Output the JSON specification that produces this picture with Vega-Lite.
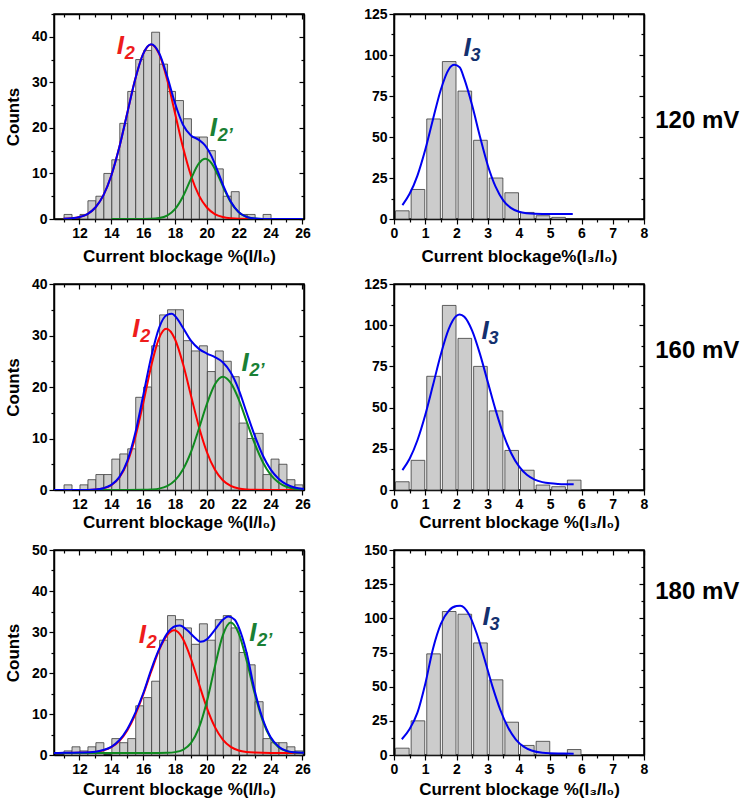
{
"$schema": "https://vega.github.io/schema/vega-lite/v6.json",
"background": "white",
"padding": {"left": 3, "top": 6, "right": 5, "bottom": 5},
"config": {
  "font": "Liberation Sans",
  "view": {"stroke": "black", "strokeWidth": 1.5},
  "axis": {"labelFont": "Liberation Sans", "titleFont": "Liberation Sans", "labelFontSize": 14, "labelFontWeight": "bold", "labelColor": "black", "titleFontSize": 17, "titleFontWeight": "bold", "titleColor": "black", "domainColor": "black", "domainWidth": 1.5, "tickColor": "black", "tickWidth": 1.2, "grid": false, "labelFlush": false, "labelPadding": 2, "titlePadding": 6, "labelOverlap": false, "format": "d"},
  "text": {"font": "Liberation Sans"}
},
"datasets": {
"bars": [
{"p":"A","x":11,"x2":11.5,"y":1},{"p":"A","x":12,"x2":12.5,"y":1},{"p":"A","x":12.5,"x2":13,"y":4},{"p":"A","x":13,"x2":13.5,"y":5},{"p":"A","x":13.5,"x2":14,"y":10},{"p":"A","x":14,"x2":14.5,"y":13},{"p":"A","x":14.5,"x2":15,"y":21},{"p":"A","x":15,"x2":15.5,"y":28},{"p":"A","x":15.5,"x2":16,"y":35},{"p":"A","x":16,"x2":16.5,"y":37},{"p":"A","x":16.5,"x2":17,"y":41},{"p":"A","x":17,"x2":17.5,"y":34},{"p":"A","x":17.5,"x2":18,"y":28},{"p":"A","x":18,"x2":18.5,"y":26},{"p":"A","x":18.5,"x2":19,"y":22},{"p":"A","x":19,"x2":19.5,"y":18},{"p":"A","x":19.5,"x2":20,"y":18},{"p":"A","x":20,"x2":20.5,"y":15},{"p":"A","x":20.5,"x2":21,"y":11},{"p":"A","x":21,"x2":21.5,"y":5},{"p":"A","x":21.5,"x2":22,"y":6},{"p":"A","x":22,"x2":22.5,"y":1},{"p":"A","x":22.5,"x2":23,"y":1},{"p":"A","x":23.5,"x2":24,"y":1},
{"p":"B","x":11,"x2":11.5,"y":1},{"p":"B","x":12,"x2":12.5,"y":1},{"p":"B","x":12.5,"x2":13,"y":2},{"p":"B","x":13,"x2":13.5,"y":3},{"p":"B","x":13.5,"x2":14,"y":3},{"p":"B","x":14,"x2":14.5,"y":6},{"p":"B","x":14.5,"x2":15,"y":7},{"p":"B","x":15,"x2":15.5,"y":8},{"p":"B","x":15.5,"x2":16,"y":18},{"p":"B","x":16,"x2":16.5,"y":20},{"p":"B","x":16.5,"x2":17,"y":28},{"p":"B","x":17,"x2":17.5,"y":34},{"p":"B","x":17.5,"x2":18,"y":35},{"p":"B","x":18,"x2":18.5,"y":35},{"p":"B","x":18.5,"x2":19,"y":29},{"p":"B","x":19,"x2":19.5,"y":27},{"p":"B","x":19.5,"x2":20,"y":28},{"p":"B","x":20,"x2":20.5,"y":23},{"p":"B","x":20.5,"x2":21,"y":27},{"p":"B","x":21,"x2":21.5,"y":25},{"p":"B","x":21.5,"x2":22,"y":22},{"p":"B","x":22,"x2":22.5,"y":13},{"p":"B","x":22.5,"x2":23,"y":10},{"p":"B","x":23,"x2":23.5,"y":11},{"p":"B","x":23.5,"x2":24,"y":3},{"p":"B","x":24,"x2":24.5,"y":6},{"p":"B","x":24.5,"x2":25,"y":5},{"p":"B","x":25,"x2":25.5,"y":2},{"p":"B","x":25.5,"x2":26,"y":1},
{"p":"C","x":11,"x2":11.5,"y":1},{"p":"C","x":11.5,"x2":12,"y":2},{"p":"C","x":12,"x2":12.5,"y":1},{"p":"C","x":12.5,"x2":13,"y":2},{"p":"C","x":13,"x2":13.5,"y":3},{"p":"C","x":14,"x2":14.5,"y":4},{"p":"C","x":14.5,"x2":15,"y":3},{"p":"C","x":15,"x2":15.5,"y":4},{"p":"C","x":15.5,"x2":16,"y":12},{"p":"C","x":16,"x2":16.5,"y":14},{"p":"C","x":16.5,"x2":17,"y":18},{"p":"C","x":17,"x2":17.5,"y":28},{"p":"C","x":17.5,"x2":18,"y":34},{"p":"C","x":18,"x2":18.5,"y":33},{"p":"C","x":18.5,"x2":19,"y":31},{"p":"C","x":19,"x2":19.5,"y":27},{"p":"C","x":19.5,"x2":20,"y":32},{"p":"C","x":20,"x2":20.5,"y":28},{"p":"C","x":20.5,"x2":21,"y":33},{"p":"C","x":21,"x2":21.5,"y":34},{"p":"C","x":21.5,"x2":22,"y":31},{"p":"C","x":22,"x2":22.5,"y":25},{"p":"C","x":22.5,"x2":23,"y":22},{"p":"C","x":23,"x2":23.5,"y":13},{"p":"C","x":23.5,"x2":24,"y":4},{"p":"C","x":24,"x2":24.5,"y":3},{"p":"C","x":24.5,"x2":25,"y":3},{"p":"C","x":25,"x2":25.5,"y":2},{"p":"C","x":25.5,"x2":26,"y":1},
{"p":"D","x":0,"x2":0.5,"y":5},{"p":"D","x":0.5,"x2":1,"y":18},{"p":"D","x":1,"x2":1.5,"y":61},{"p":"D","x":1.5,"x2":2,"y":96},{"p":"D","x":2,"x2":2.5,"y":78},{"p":"D","x":2.5,"x2":3,"y":48},{"p":"D","x":3,"x2":3.5,"y":25},{"p":"D","x":3.5,"x2":4,"y":16},{"p":"D","x":4,"x2":4.5,"y":4},{"p":"D","x":4.5,"x2":5,"y":2},{"p":"D","x":5,"x2":5.5,"y":1},
{"p":"E","x":0,"x2":0.5,"y":5},{"p":"E","x":0.5,"x2":1,"y":18},{"p":"E","x":1,"x2":1.5,"y":69},{"p":"E","x":1.5,"x2":2,"y":112},{"p":"E","x":2,"x2":2.5,"y":92},{"p":"E","x":2.5,"x2":3,"y":75},{"p":"E","x":3,"x2":3.5,"y":48},{"p":"E","x":3.5,"x2":4,"y":24},{"p":"E","x":4,"x2":4.5,"y":12},{"p":"E","x":4.5,"x2":5,"y":3},{"p":"E","x":5,"x2":5.5,"y":2},{"p":"E","x":5.5,"x2":6,"y":6},
{"p":"F","x":0,"x2":0.5,"y":5},{"p":"F","x":0.5,"x2":1,"y":25},{"p":"F","x":1,"x2":1.5,"y":74},{"p":"F","x":1.5,"x2":2,"y":105},{"p":"F","x":2,"x2":2.5,"y":103},{"p":"F","x":2.5,"x2":3,"y":82},{"p":"F","x":3,"x2":3.5,"y":55},{"p":"F","x":3.5,"x2":4,"y":24},{"p":"F","x":4,"x2":4.5,"y":7},{"p":"F","x":4.5,"x2":5,"y":10},{"p":"F","x":5.5,"x2":6,"y":4}
],
"curves": [
{"p":"A","s":"red","x":11,"y":0.05},{"p":"A","s":"red","x":11.5,"y":0.15},{"p":"A","s":"red","x":12,"y":0.43},{"p":"A","s":"red","x":12.5,"y":1.09},{"p":"A","s":"red","x":13,"y":2.52},{"p":"A","s":"red","x":13.5,"y":5.18},{"p":"A","s":"red","x":14,"y":9.55},{"p":"A","s":"red","x":14.5,"y":15.74},{"p":"A","s":"red","x":15,"y":23.23},{"p":"A","s":"red","x":15.5,"y":30.67},{"p":"A","s":"red","x":16,"y":36.23},{"p":"A","s":"red","x":16.5,"y":38.3},{"p":"A","s":"red","x":17,"y":36.23},{"p":"A","s":"red","x":17.5,"y":30.67},{"p":"A","s":"red","x":18,"y":23.23},{"p":"A","s":"red","x":18.5,"y":15.74},{"p":"A","s":"red","x":19,"y":9.55},{"p":"A","s":"red","x":19.5,"y":5.18},{"p":"A","s":"red","x":20,"y":2.52},{"p":"A","s":"red","x":20.5,"y":1.09},{"p":"A","s":"red","x":21,"y":0.43},{"p":"A","s":"red","x":21.5,"y":0.15},{"p":"A","s":"red","x":22,"y":0.05},{"p":"A","s":"red","x":23,"y":0.01},{"p":"A","s":"red","x":24,"y":0},
{"p":"A","s":"green","x":14,"y":0},{"p":"A","s":"green","x":15,"y":0},{"p":"A","s":"green","x":16,"y":0.01},{"p":"A","s":"green","x":16.5,"y":0.04},{"p":"A","s":"green","x":17,"y":0.2},{"p":"A","s":"green","x":17.5,"y":0.74},{"p":"A","s":"green","x":18,"y":2.17},{"p":"A","s":"green","x":18.5,"y":4.95},{"p":"A","s":"green","x":19,"y":8.8},{"p":"A","s":"green","x":19.5,"y":12.19},{"p":"A","s":"green","x":19.9,"y":13.2},{"p":"A","s":"green","x":20.3,"y":12.19},{"p":"A","s":"green","x":20.7,"y":9.58},{"p":"A","s":"green","x":21.1,"y":6.43},{"p":"A","s":"green","x":21.5,"y":3.67},{"p":"A","s":"green","x":22,"y":1.46},{"p":"A","s":"green","x":22.5,"y":0.45},{"p":"A","s":"green","x":23,"y":0.11},{"p":"A","s":"green","x":23.5,"y":0.02},{"p":"A","s":"green","x":24,"y":0},{"p":"A","s":"green","x":26,"y":0},
{"p":"A","s":"blue","x":11,"y":0.05},{"p":"A","s":"blue","x":11.5,"y":0.15},{"p":"A","s":"blue","x":12,"y":0.43},{"p":"A","s":"blue","x":12.5,"y":1.09},{"p":"A","s":"blue","x":13,"y":2.52},{"p":"A","s":"blue","x":13.5,"y":5.18},{"p":"A","s":"blue","x":14,"y":9.55},{"p":"A","s":"blue","x":14.5,"y":15.74},{"p":"A","s":"blue","x":15,"y":23.23},{"p":"A","s":"blue","x":15.5,"y":30.67},{"p":"A","s":"blue","x":16,"y":36.24},{"p":"A","s":"blue","x":16.5,"y":38.34},{"p":"A","s":"blue","x":17,"y":36.43},{"p":"A","s":"blue","x":17.5,"y":31.41},{"p":"A","s":"blue","x":18,"y":25.4},{"p":"A","s":"blue","x":18.5,"y":20.69},{"p":"A","s":"blue","x":19,"y":18.35},{"p":"A","s":"blue","x":19.5,"y":17.37},{"p":"A","s":"blue","x":19.9,"y":16.13},{"p":"A","s":"blue","x":20.3,"y":13.74},{"p":"A","s":"blue","x":20.7,"y":10.34},{"p":"A","s":"blue","x":21.1,"y":6.78},{"p":"A","s":"blue","x":21.5,"y":3.82},{"p":"A","s":"blue","x":22,"y":1.51},{"p":"A","s":"blue","x":22.5,"y":0.46},{"p":"A","s":"blue","x":23,"y":0.11},{"p":"A","s":"blue","x":23.5,"y":0.02},{"p":"A","s":"blue","x":24,"y":0},{"p":"A","s":"blue","x":26,"y":0},
{"p":"B","s":"red","x":10.4,"y":0},{"p":"B","s":"red","x":12,"y":0},{"p":"B","s":"red","x":12.5,"y":0.02},{"p":"B","s":"red","x":13,"y":0.09},{"p":"B","s":"red","x":13.5,"y":0.31},{"p":"B","s":"red","x":14,"y":0.93},{"p":"B","s":"red","x":14.5,"y":2.38},{"p":"B","s":"red","x":15,"y":5.3},{"p":"B","s":"red","x":15.5,"y":10.2},{"p":"B","s":"red","x":16,"y":16.8},{"p":"B","s":"red","x":16.5,"y":24},{"p":"B","s":"red","x":17,"y":29.5},{"p":"B","s":"red","x":17.45,"y":31.3},{"p":"B","s":"red","x":18,"y":29.27},{"p":"B","s":"red","x":18.5,"y":24.5},{"p":"B","s":"red","x":19,"y":18.35},{"p":"B","s":"red","x":19.5,"y":12.3},{"p":"B","s":"red","x":20,"y":7.38},{"p":"B","s":"red","x":20.5,"y":3.96},{"p":"B","s":"red","x":21,"y":1.9},{"p":"B","s":"red","x":21.5,"y":0.82},{"p":"B","s":"red","x":22,"y":0.31},{"p":"B","s":"red","x":22.5,"y":0.1},{"p":"B","s":"red","x":23,"y":0.03},{"p":"B","s":"red","x":24,"y":0},{"p":"B","s":"red","x":26.1,"y":0},
{"p":"B","s":"green","x":10.4,"y":0},{"p":"B","s":"green","x":15,"y":0},{"p":"B","s":"green","x":16,"y":0.03},{"p":"B","s":"green","x":16.5,"y":0.09},{"p":"B","s":"green","x":17,"y":0.27},{"p":"B","s":"green","x":17.5,"y":0.76},{"p":"B","s":"green","x":18,"y":1.86},{"p":"B","s":"green","x":18.5,"y":3.96},{"p":"B","s":"green","x":19,"y":7.34},{"p":"B","s":"green","x":19.5,"y":11.9},{"p":"B","s":"green","x":20,"y":16.7},{"p":"B","s":"green","x":20.5,"y":20.5},{"p":"B","s":"green","x":21,"y":22},{"p":"B","s":"green","x":21.5,"y":20.8},{"p":"B","s":"green","x":22,"y":17.6},{"p":"B","s":"green","x":22.5,"y":13.3},{"p":"B","s":"green","x":23,"y":9.05},{"p":"B","s":"green","x":23.5,"y":5.5},{"p":"B","s":"green","x":24,"y":2.98},{"p":"B","s":"green","x":24.5,"y":1.45},{"p":"B","s":"green","x":25,"y":0.63},{"p":"B","s":"green","x":25.5,"y":0.24},{"p":"B","s":"green","x":26.1,"y":0.07},
{"p":"B","s":"blue","x":10.4,"y":0},{"p":"B","s":"blue","x":12,"y":0},{"p":"B","s":"blue","x":13,"y":0.1},{"p":"B","s":"blue","x":13.5,"y":0.35},{"p":"B","s":"blue","x":14,"y":1},{"p":"B","s":"blue","x":14.5,"y":2.5},{"p":"B","s":"blue","x":15,"y":5.6},{"p":"B","s":"blue","x":15.5,"y":11},{"p":"B","s":"blue","x":16,"y":18.3},{"p":"B","s":"blue","x":16.5,"y":25.8},{"p":"B","s":"blue","x":17,"y":31.5},{"p":"B","s":"blue","x":17.5,"y":34},{"p":"B","s":"blue","x":17.8,"y":34.2},{"p":"B","s":"blue","x":18,"y":33.8},{"p":"B","s":"blue","x":18.5,"y":31.5},{"p":"B","s":"blue","x":19,"y":29},{"p":"B","s":"blue","x":19.5,"y":27.4},{"p":"B","s":"blue","x":20,"y":26.5},{"p":"B","s":"blue","x":20.5,"y":25.8},{"p":"B","s":"blue","x":21,"y":24.8},{"p":"B","s":"blue","x":21.5,"y":22.8},{"p":"B","s":"blue","x":22,"y":19.5},{"p":"B","s":"blue","x":22.5,"y":15},{"p":"B","s":"blue","x":23,"y":10.6},{"p":"B","s":"blue","x":23.5,"y":6.8},{"p":"B","s":"blue","x":24,"y":4},{"p":"B","s":"blue","x":24.5,"y":2.2},{"p":"B","s":"blue","x":25,"y":1.1},{"p":"B","s":"blue","x":25.5,"y":0.5},{"p":"B","s":"blue","x":26.1,"y":0.2},
{"p":"C","s":"red","x":10.4,"y":0.5},{"p":"C","s":"red","x":12,"y":0.53},{"p":"C","s":"red","x":13,"y":0.75},{"p":"C","s":"red","x":13.5,"y":1.12},{"p":"C","s":"red","x":14,"y":1.9},{"p":"C","s":"red","x":14.5,"y":3.4},{"p":"C","s":"red","x":15,"y":6},{"p":"C","s":"red","x":15.5,"y":9.8},{"p":"C","s":"red","x":16,"y":14.7},{"p":"C","s":"red","x":16.5,"y":20.3},{"p":"C","s":"red","x":17,"y":25.6},{"p":"C","s":"red","x":17.5,"y":29.2},{"p":"C","s":"red","x":17.95,"y":30.4},{"p":"C","s":"red","x":18.5,"y":28.3},{"p":"C","s":"red","x":19,"y":23.5},{"p":"C","s":"red","x":19.5,"y":17.4},{"p":"C","s":"red","x":20,"y":11.5},{"p":"C","s":"red","x":20.5,"y":6.86},{"p":"C","s":"red","x":21,"y":3.76},{"p":"C","s":"red","x":21.5,"y":1.99},{"p":"C","s":"red","x":22,"y":1.1},{"p":"C","s":"red","x":22.5,"y":0.72},{"p":"C","s":"red","x":23,"y":0.58},{"p":"C","s":"red","x":24,"y":0.5},{"p":"C","s":"red","x":26.1,"y":0.5},
{"p":"C","s":"green","x":10.4,"y":0.5},{"p":"C","s":"green","x":17,"y":0.5},{"p":"C","s":"green","x":17.5,"y":0.54},{"p":"C","s":"green","x":18,"y":0.7},{"p":"C","s":"green","x":18.5,"y":1.27},{"p":"C","s":"green","x":19,"y":2.9},{"p":"C","s":"green","x":19.5,"y":6.59},{"p":"C","s":"green","x":20,"y":13.05},{"p":"C","s":"green","x":20.5,"y":21.54},{"p":"C","s":"green","x":21,"y":29.18},{"p":"C","s":"green","x":21.5,"y":32.3},{"p":"C","s":"green","x":22,"y":29.66},{"p":"C","s":"green","x":22.5,"y":22.97},{"p":"C","s":"green","x":23,"y":15.06},{"p":"C","s":"green","x":23.5,"y":8.43},{"p":"C","s":"green","x":24,"y":4.13},{"p":"C","s":"green","x":24.5,"y":1.9},{"p":"C","s":"green","x":25,"y":0.95},{"p":"C","s":"green","x":25.5,"y":0.62},{"p":"C","s":"green","x":26.1,"y":0.52},
{"p":"C","s":"blue","x":10.4,"y":0.5},{"p":"C","s":"blue","x":11,"y":0.52},{"p":"C","s":"blue","x":12,"y":0.6},{"p":"C","s":"blue","x":13,"y":0.8},{"p":"C","s":"blue","x":13.5,"y":1.2},{"p":"C","s":"blue","x":14,"y":2},{"p":"C","s":"blue","x":14.5,"y":3.6},{"p":"C","s":"blue","x":15,"y":6.3},{"p":"C","s":"blue","x":15.5,"y":10.2},{"p":"C","s":"blue","x":16,"y":15},{"p":"C","s":"blue","x":16.5,"y":20.8},{"p":"C","s":"blue","x":17,"y":25.8},{"p":"C","s":"blue","x":17.5,"y":29.6},{"p":"C","s":"blue","x":18,"y":31.4},{"p":"C","s":"blue","x":18.3,"y":31.6},{"p":"C","s":"blue","x":18.75,"y":30.5},{"p":"C","s":"blue","x":19.25,"y":28.6},{"p":"C","s":"blue","x":19.6,"y":27.6},{"p":"C","s":"blue","x":20,"y":28.2},{"p":"C","s":"blue","x":20.5,"y":30.5},{"p":"C","s":"blue","x":21,"y":33},{"p":"C","s":"blue","x":21.35,"y":33.8},{"p":"C","s":"blue","x":21.75,"y":33},{"p":"C","s":"blue","x":22,"y":31.2},{"p":"C","s":"blue","x":22.5,"y":24.9},{"p":"C","s":"blue","x":23,"y":15.8},{"p":"C","s":"blue","x":23.5,"y":8.9},{"p":"C","s":"blue","x":24,"y":4.4},{"p":"C","s":"blue","x":24.5,"y":2.1},{"p":"C","s":"blue","x":25,"y":1},{"p":"C","s":"blue","x":25.5,"y":0.65},{"p":"C","s":"blue","x":26.1,"y":0.52},
{"p":"D","s":"blue","x":0.27,"y":8.5},{"p":"D","s":"blue","x":0.5,"y":15.4},{"p":"D","s":"blue","x":0.75,"y":26.5},{"p":"D","s":"blue","x":1,"y":42.2},{"p":"D","s":"blue","x":1.25,"y":61},{"p":"D","s":"blue","x":1.5,"y":79},{"p":"D","s":"blue","x":1.75,"y":91.2},{"p":"D","s":"blue","x":1.93,"y":94},{"p":"D","s":"blue","x":2.1,"y":92.5},{"p":"D","s":"blue","x":2.25,"y":85.4},{"p":"D","s":"blue","x":2.5,"y":69.3},{"p":"D","s":"blue","x":2.75,"y":50.3},{"p":"D","s":"blue","x":3,"y":32.8},{"p":"D","s":"blue","x":3.25,"y":19.7},{"p":"D","s":"blue","x":3.5,"y":11.25},{"p":"D","s":"blue","x":3.75,"y":6.6},{"p":"D","s":"blue","x":4,"y":4.4},{"p":"D","s":"blue","x":4.25,"y":3.48},{"p":"D","s":"blue","x":4.5,"y":3.15},{"p":"D","s":"blue","x":5,"y":3},{"p":"D","s":"blue","x":5.72,"y":3},
{"p":"E","s":"blue","x":0.27,"y":12.1},{"p":"E","s":"blue","x":0.5,"y":19},{"p":"E","s":"blue","x":0.75,"y":30.2},{"p":"E","s":"blue","x":1,"y":45.5},{"p":"E","s":"blue","x":1.25,"y":63.8},{"p":"E","s":"blue","x":1.5,"y":82.4},{"p":"E","s":"blue","x":1.75,"y":97.6},{"p":"E","s":"blue","x":2,"y":105.7},{"p":"E","s":"blue","x":2.1,"y":106.5},{"p":"E","s":"blue","x":2.25,"y":105.1},{"p":"E","s":"blue","x":2.5,"y":96.7},{"p":"E","s":"blue","x":2.75,"y":82.6},{"p":"E","s":"blue","x":3,"y":65.6},{"p":"E","s":"blue","x":3.25,"y":48.6},{"p":"E","s":"blue","x":3.5,"y":33.8},{"p":"E","s":"blue","x":3.75,"y":22.3},{"p":"E","s":"blue","x":4,"y":14.3},{"p":"E","s":"blue","x":4.25,"y":9.2},{"p":"E","s":"blue","x":4.5,"y":6.3},{"p":"E","s":"blue","x":4.75,"y":4.78},{"p":"E","s":"blue","x":5,"y":4.04},{"p":"E","s":"blue","x":5.25,"y":3.7},{"p":"E","s":"blue","x":5.5,"y":3.55},{"p":"E","s":"blue","x":5.75,"y":3.5},
{"p":"F","s":"blue","x":0.25,"y":11.5},{"p":"F","s":"blue","x":0.5,"y":19},{"p":"F","s":"blue","x":0.75,"y":31},{"p":"F","s":"blue","x":1,"y":52},{"p":"F","s":"blue","x":1.25,"y":78},{"p":"F","s":"blue","x":1.5,"y":96},{"p":"F","s":"blue","x":1.75,"y":105.5},{"p":"F","s":"blue","x":2,"y":109},{"p":"F","s":"blue","x":2.12,"y":109.2},{"p":"F","s":"blue","x":2.4,"y":102.9},{"p":"F","s":"blue","x":2.65,"y":88.7},{"p":"F","s":"blue","x":2.9,"y":69.9},{"p":"F","s":"blue","x":3.15,"y":50.2},{"p":"F","s":"blue","x":3.4,"y":33.1},{"p":"F","s":"blue","x":3.65,"y":20.1},{"p":"F","s":"blue","x":3.9,"y":11.3},{"p":"F","s":"blue","x":4.15,"y":6.1},{"p":"F","s":"blue","x":4.4,"y":3.3},{"p":"F","s":"blue","x":4.75,"y":1.65},{"p":"F","s":"blue","x":5.25,"y":1.1},{"p":"F","s":"blue","x":5.75,"y":1}
],
"labels": [
{"p":"A","s":"red","x":14.34,"y":36.2,"t":"I","sub":"2"},
{"p":"A","s":"green","x":20.18,"y":18.2,"t":"I","sub":"2’"},
{"p":"B","s":"red","x":15.32,"y":29.7,"t":"I","sub":"2"},
{"p":"B","s":"green","x":22.18,"y":23.1,"t":"I","sub":"2’"},
{"p":"C","s":"red","x":15.72,"y":27.2,"t":"I","sub":"2"},
{"p":"C","s":"green","x":22.66,"y":27.7,"t":"I","sub":"2’"},
{"p":"D","s":"navy","x":2.22,"y":99.6,"t":"I","sub":"3"},
{"p":"E","s":"navy","x":2.8,"y":91.5,"t":"I","sub":"3"},
{"p":"F","s":"navy","x":2.83,"y":95.3,"t":"I","sub":"3"},
{"p":"D","s":"mv","x":8.36,"y":60,"t":"120 mV"},
{"p":"E","s":"mv","x":8.36,"y":84.3,"t":"160 mV"},
{"p":"F","s":"mv","x":8.36,"y":119.4,"t":"180 mV"}
]
},
"spacing": 11,
"vconcat": [
{"hconcat": [
 {"width": 250, "height": 205, "resolve": {"axis": {"x": "independent", "y": "independent"}},
  "layer": [
   {"data": {"name": "bars"}, "transform": [{"filter": "datum.p === 'A'"}],
    "mark": {"type": "bar", "fill": "#cccccc", "stroke": "#3a3a3a", "strokeWidth": 0.8, "binSpacing": 0},
    "encoding": {
     "x": {"field": "x", "type": "quantitative", "bin": "binned", "scale": {"domain": [10.4, 26.1], "nice": false, "zero": false},
       "axis": {"orient": "bottom", "title": "Current blockage %(I/I₀)", "titlePadding": 8, "values": [11,12,13,14,15,16,17,18,19,20,21,22,23,24,25,26], "labelExpr": "datum.value % 2 === 0 ? datum.label : ''", "tickSize": {"condition": {"test": "datum.value % 2 === 0", "value": 5}, "value": 3}}},
     "x2": {"field": "x2"},
     "y": {"field": "y", "type": "quantitative", "scale": {"domain": [0, 45], "nice": false},
       "axis": {"orient": "left", "title": "Counts", "titlePadding": 9, "values": [0,5,10,15,20,25,30,35,40,45], "labelExpr": "datum.value % 10 === 0 ? datum.label : ''", "tickSize": {"condition": {"test": "datum.value % 10 === 0", "value": 5}, "value": 3}}}
    }},
   {"data": {"name": "curves"}, "transform": [{"filter": "datum.p === 'A' && datum.s === 'red'"}],
    "mark": {"type": "line", "color": "#ff0000", "strokeWidth": 2, "interpolate": "monotone", "clip": true},
    "encoding": {"x": {"field": "x", "type": "quantitative", "scale": {"domain": [10.4, 26.1], "nice": false, "zero": false}, "axis": null}, "y": {"field": "y", "type": "quantitative", "scale": {"domain": [0, 45], "nice": false}, "axis": null}}},
   {"data": {"name": "curves"}, "transform": [{"filter": "datum.p === 'A' && datum.s === 'green'"}],
    "mark": {"type": "line", "color": "#0f8a1f", "strokeWidth": 2, "interpolate": "monotone", "clip": true},
    "encoding": {"x": {"field": "x", "type": "quantitative", "scale": {"domain": [10.4, 26.1], "nice": false, "zero": false}, "axis": null}, "y": {"field": "y", "type": "quantitative", "scale": {"domain": [0, 45], "nice": false}, "axis": null}}},
   {"data": {"name": "curves"}, "transform": [{"filter": "datum.p === 'A' && datum.s === 'blue'"}],
    "mark": {"type": "line", "color": "#0000f0", "strokeWidth": 2, "interpolate": "monotone", "clip": true},
    "encoding": {"x": {"field": "x", "type": "quantitative", "scale": {"domain": [10.4, 26.1], "nice": false, "zero": false}, "axis": {"orient": "top", "title": null, "labels": false, "values": [11,12,13,14,15,16,17,18,19,20,21,22,23,24,25,26], "tickSize": {"condition": {"test": "datum.value % 2 === 0", "value": -5}, "value": -3}}},
     "y": {"field": "y", "type": "quantitative", "scale": {"domain": [0, 45], "nice": false}, "axis": {"orient": "right", "title": null, "labels": false, "values": [0,5,10,15,20,25,30,35,40,45], "tickSize": {"condition": {"test": "datum.value % 10 === 0", "value": -5}, "value": -3}}}}},
   {"data": {"name": "labels"}, "transform": [{"filter": "datum.p === 'A' && datum.s !== 'mv'"}],
    "mark": {"type": "text", "fontSize": 26, "fontStyle": "italic", "fontWeight": "bold", "align": "left", "baseline": "alphabetic"},
    "encoding": {"x": {"field": "x", "type": "quantitative", "scale": {"domain": [10.4, 26.1], "nice": false, "zero": false}, "axis": null}, "y": {"field": "y", "type": "quantitative", "scale": {"domain": [0, 45], "nice": false}, "axis": null}, "text": {"field": "t"},
     "color": {"field": "s", "type": "nominal", "scale": {"domain": ["red", "green", "navy"], "range": ["#ee1c1c", "#1a8035", "#14306e"]}, "legend": null}}},
   {"data": {"name": "labels"}, "transform": [{"filter": "datum.p === 'A' && datum.s !== 'mv'"}],
    "mark": {"type": "text", "fontSize": 18, "fontStyle": "italic", "fontWeight": "bold", "align": "left", "baseline": "alphabetic", "dx": 8, "dy": 5},
    "encoding": {"x": {"field": "x", "type": "quantitative", "scale": {"domain": [10.4, 26.1], "nice": false, "zero": false}, "axis": null}, "y": {"field": "y", "type": "quantitative", "scale": {"domain": [0, 45], "nice": false}, "axis": null}, "text": {"field": "sub"},
     "color": {"field": "s", "type": "nominal", "scale": {"domain": ["red", "green", "navy"], "range": ["#ee1c1c", "#1a8035", "#14306e"]}, "legend": null}}}
  ]},
 {"width": 250, "height": 205, "resolve": {"axis": {"x": "independent", "y": "independent"}},
  "layer": [
   {"data": {"name": "bars"}, "transform": [{"filter": "datum.p === 'D'"}],
    "mark": {"type": "bar", "fill": "#cccccc", "stroke": "#3a3a3a", "strokeWidth": 0.8, "binSpacing": 2},
    "encoding": {
     "x": {"field": "x", "type": "quantitative", "bin": "binned", "scale": {"domain": [0, 8], "nice": false},
       "axis": {"orient": "bottom", "title": "Current blockage%(I₃/I₀)", "titlePadding": 8, "values": [0,0.5,1,1.5,2,2.5,3,3.5,4,4.5,5,5.5,6,6.5,7,7.5,8], "labelExpr": "datum.value % 1 === 0 ? datum.label : ''", "tickSize": {"condition": {"test": "datum.value % 1 === 0", "value": 5}, "value": 3}}},
     "x2": {"field": "x2"},
     "y": {"field": "y", "type": "quantitative", "scale": {"domain": [0, 125], "nice": false},
       "axis": {"orient": "left", "title": null, "values": [0,12.5,25,37.5,50,62.5,75,87.5,100,112.5,125], "labelExpr": "datum.value % 25 === 0 ? datum.label : ''", "tickSize": {"condition": {"test": "datum.value % 25 === 0", "value": 5}, "value": 3}}}
    }},
   {"data": {"name": "curves"}, "transform": [{"filter": "datum.p === 'D'"}],
    "mark": {"type": "line", "color": "#0000f0", "strokeWidth": 2, "interpolate": "monotone", "clip": true},
    "encoding": {"x": {"field": "x", "type": "quantitative", "scale": {"domain": [0, 8], "nice": false}, "axis": {"orient": "top", "title": null, "labels": false, "values": [0,0.5,1,1.5,2,2.5,3,3.5,4,4.5,5,5.5,6,6.5,7,7.5,8], "tickSize": {"condition": {"test": "datum.value % 1 === 0", "value": -5}, "value": -3}}},
     "y": {"field": "y", "type": "quantitative", "scale": {"domain": [0, 125], "nice": false}, "axis": {"orient": "right", "title": null, "labels": false, "values": [0,12.5,25,37.5,50,62.5,75,87.5,100,112.5,125], "tickSize": {"condition": {"test": "datum.value % 25 === 0", "value": -5}, "value": -3}}}}},
   {"data": {"name": "labels"}, "transform": [{"filter": "datum.p === 'D' && datum.s !== 'mv'"}],
    "mark": {"type": "text", "fontSize": 26, "fontStyle": "italic", "fontWeight": "bold", "align": "left", "baseline": "alphabetic"},
    "encoding": {"x": {"field": "x", "type": "quantitative", "scale": {"domain": [0, 8], "nice": false}, "axis": null}, "y": {"field": "y", "type": "quantitative", "scale": {"domain": [0, 125], "nice": false}, "axis": null}, "text": {"field": "t"},
     "color": {"field": "s", "type": "nominal", "scale": {"domain": ["red", "green", "navy"], "range": ["#ee1c1c", "#1a8035", "#14306e"]}, "legend": null}}},
   {"data": {"name": "labels"}, "transform": [{"filter": "datum.p === 'D' && datum.s !== 'mv'"}],
    "mark": {"type": "text", "fontSize": 18, "fontStyle": "italic", "fontWeight": "bold", "align": "left", "baseline": "alphabetic", "dx": 7, "dy": 5},
    "encoding": {"x": {"field": "x", "type": "quantitative", "scale": {"domain": [0, 8], "nice": false}, "axis": null}, "y": {"field": "y", "type": "quantitative", "scale": {"domain": [0, 125], "nice": false}, "axis": null}, "text": {"field": "sub"},
     "color": {"field": "s", "type": "nominal", "scale": {"domain": ["red", "green", "navy"], "range": ["#ee1c1c", "#1a8035", "#14306e"]}, "legend": null}}},
   {"data": {"name": "labels"}, "transform": [{"filter": "datum.p === 'D' && datum.s === 'mv'"}],
    "mark": {"type": "text", "fontSize": 24, "fontWeight": "bold", "align": "left", "baseline": "middle", "color": "black"},
    "encoding": {"x": {"field": "x", "type": "quantitative", "scale": {"domain": [0, 8], "nice": false}, "axis": null}, "y": {"field": "y", "type": "quantitative", "scale": {"domain": [0, 125], "nice": false}, "axis": null}, "text": {"field": "t"}}}
  ]}
], "spacing": 90, "bounds": "flush"},
{"hconcat": [
 {"width": 250, "height": 206, "resolve": {"axis": {"x": "independent", "y": "independent"}},
  "layer": [
   {"data": {"name": "bars"}, "transform": [{"filter": "datum.p === 'B'"}],
    "mark": {"type": "bar", "fill": "#cccccc", "stroke": "#3a3a3a", "strokeWidth": 0.8, "binSpacing": 0},
    "encoding": {
     "x": {"field": "x", "type": "quantitative", "bin": "binned", "scale": {"domain": [10.4, 26.1], "nice": false, "zero": false},
       "axis": {"orient": "bottom", "title": "Current blockage %(I/I₀)", "titlePadding": 3, "values": [11,12,13,14,15,16,17,18,19,20,21,22,23,24,25,26], "labelExpr": "datum.value % 2 === 0 ? datum.label : ''", "tickSize": {"condition": {"test": "datum.value % 2 === 0", "value": 5}, "value": 3}}},
     "x2": {"field": "x2"},
     "y": {"field": "y", "type": "quantitative", "scale": {"domain": [0, 40], "nice": false},
       "axis": {"orient": "left", "title": "Counts", "titlePadding": 9, "values": [0,5,10,15,20,25,30,35,40], "labelExpr": "datum.value % 10 === 0 ? datum.label : ''", "tickSize": {"condition": {"test": "datum.value % 10 === 0", "value": 5}, "value": 3}}}
    }},
   {"data": {"name": "curves"}, "transform": [{"filter": "datum.p === 'B' && datum.s === 'red'"}],
    "mark": {"type": "line", "color": "#ff0000", "strokeWidth": 2, "interpolate": "monotone", "clip": true},
    "encoding": {"x": {"field": "x", "type": "quantitative", "scale": {"domain": [10.4, 26.1], "nice": false, "zero": false}, "axis": null}, "y": {"field": "y", "type": "quantitative", "scale": {"domain": [0, 40], "nice": false}, "axis": null}}},
   {"data": {"name": "curves"}, "transform": [{"filter": "datum.p === 'B' && datum.s === 'green'"}],
    "mark": {"type": "line", "color": "#0f8a1f", "strokeWidth": 2, "interpolate": "monotone", "clip": true},
    "encoding": {"x": {"field": "x", "type": "quantitative", "scale": {"domain": [10.4, 26.1], "nice": false, "zero": false}, "axis": null}, "y": {"field": "y", "type": "quantitative", "scale": {"domain": [0, 40], "nice": false}, "axis": null}}},
   {"data": {"name": "curves"}, "transform": [{"filter": "datum.p === 'B' && datum.s === 'blue'"}],
    "mark": {"type": "line", "color": "#0000f0", "strokeWidth": 2, "interpolate": "monotone", "clip": true},
    "encoding": {"x": {"field": "x", "type": "quantitative", "scale": {"domain": [10.4, 26.1], "nice": false, "zero": false}, "axis": {"orient": "top", "title": null, "labels": false, "values": [11,12,13,14,15,16,17,18,19,20,21,22,23,24,25,26], "tickSize": {"condition": {"test": "datum.value % 2 === 0", "value": -5}, "value": -3}}},
     "y": {"field": "y", "type": "quantitative", "scale": {"domain": [0, 40], "nice": false}, "axis": {"orient": "right", "title": null, "labels": false, "values": [0,5,10,15,20,25,30,35,40], "tickSize": {"condition": {"test": "datum.value % 10 === 0", "value": -5}, "value": -3}}}}},
   {"data": {"name": "labels"}, "transform": [{"filter": "datum.p === 'B' && datum.s !== 'mv'"}],
    "mark": {"type": "text", "fontSize": 26, "fontStyle": "italic", "fontWeight": "bold", "align": "left", "baseline": "alphabetic"},
    "encoding": {"x": {"field": "x", "type": "quantitative", "scale": {"domain": [10.4, 26.1], "nice": false, "zero": false}, "axis": null}, "y": {"field": "y", "type": "quantitative", "scale": {"domain": [0, 40], "nice": false}, "axis": null}, "text": {"field": "t"},
     "color": {"field": "s", "type": "nominal", "scale": {"domain": ["red", "green", "navy"], "range": ["#ee1c1c", "#1a8035", "#14306e"]}, "legend": null}}},
   {"data": {"name": "labels"}, "transform": [{"filter": "datum.p === 'B' && datum.s !== 'mv'"}],
    "mark": {"type": "text", "fontSize": 18, "fontStyle": "italic", "fontWeight": "bold", "align": "left", "baseline": "alphabetic", "dx": 8, "dy": 5},
    "encoding": {"x": {"field": "x", "type": "quantitative", "scale": {"domain": [10.4, 26.1], "nice": false, "zero": false}, "axis": null}, "y": {"field": "y", "type": "quantitative", "scale": {"domain": [0, 40], "nice": false}, "axis": null}, "text": {"field": "sub"},
     "color": {"field": "s", "type": "nominal", "scale": {"domain": ["red", "green", "navy"], "range": ["#ee1c1c", "#1a8035", "#14306e"]}, "legend": null}}}
  ]},
 {"width": 250, "height": 206, "resolve": {"axis": {"x": "independent", "y": "independent"}},
  "layer": [
   {"data": {"name": "bars"}, "transform": [{"filter": "datum.p === 'E'"}],
    "mark": {"type": "bar", "fill": "#cccccc", "stroke": "#3a3a3a", "strokeWidth": 0.8, "binSpacing": 2},
    "encoding": {
     "x": {"field": "x", "type": "quantitative", "bin": "binned", "scale": {"domain": [0, 8], "nice": false},
       "axis": {"orient": "bottom", "title": "Current blockage %(I₃/I₀)", "titlePadding": 3, "values": [0,0.5,1,1.5,2,2.5,3,3.5,4,4.5,5,5.5,6,6.5,7,7.5,8], "labelExpr": "datum.value % 1 === 0 ? datum.label : ''", "tickSize": {"condition": {"test": "datum.value % 1 === 0", "value": 5}, "value": 3}}},
     "x2": {"field": "x2"},
     "y": {"field": "y", "type": "quantitative", "scale": {"domain": [0, 125], "nice": false},
       "axis": {"orient": "left", "title": null, "values": [0,12.5,25,37.5,50,62.5,75,87.5,100,112.5,125], "labelExpr": "datum.value % 25 === 0 ? datum.label : ''", "tickSize": {"condition": {"test": "datum.value % 25 === 0", "value": 5}, "value": 3}}}
    }},
   {"data": {"name": "curves"}, "transform": [{"filter": "datum.p === 'E'"}],
    "mark": {"type": "line", "color": "#0000f0", "strokeWidth": 2, "interpolate": "monotone", "clip": true},
    "encoding": {"x": {"field": "x", "type": "quantitative", "scale": {"domain": [0, 8], "nice": false}, "axis": {"orient": "top", "title": null, "labels": false, "values": [0,0.5,1,1.5,2,2.5,3,3.5,4,4.5,5,5.5,6,6.5,7,7.5,8], "tickSize": {"condition": {"test": "datum.value % 1 === 0", "value": -5}, "value": -3}}},
     "y": {"field": "y", "type": "quantitative", "scale": {"domain": [0, 125], "nice": false}, "axis": {"orient": "right", "title": null, "labels": false, "values": [0,12.5,25,37.5,50,62.5,75,87.5,100,112.5,125], "tickSize": {"condition": {"test": "datum.value % 25 === 0", "value": -5}, "value": -3}}}}},
   {"data": {"name": "labels"}, "transform": [{"filter": "datum.p === 'E' && datum.s !== 'mv'"}],
    "mark": {"type": "text", "fontSize": 26, "fontStyle": "italic", "fontWeight": "bold", "align": "left", "baseline": "alphabetic"},
    "encoding": {"x": {"field": "x", "type": "quantitative", "scale": {"domain": [0, 8], "nice": false}, "axis": null}, "y": {"field": "y", "type": "quantitative", "scale": {"domain": [0, 125], "nice": false}, "axis": null}, "text": {"field": "t"},
     "color": {"field": "s", "type": "nominal", "scale": {"domain": ["red", "green", "navy"], "range": ["#ee1c1c", "#1a8035", "#14306e"]}, "legend": null}}},
   {"data": {"name": "labels"}, "transform": [{"filter": "datum.p === 'E' && datum.s !== 'mv'"}],
    "mark": {"type": "text", "fontSize": 18, "fontStyle": "italic", "fontWeight": "bold", "align": "left", "baseline": "alphabetic", "dx": 7, "dy": 5},
    "encoding": {"x": {"field": "x", "type": "quantitative", "scale": {"domain": [0, 8], "nice": false}, "axis": null}, "y": {"field": "y", "type": "quantitative", "scale": {"domain": [0, 125], "nice": false}, "axis": null}, "text": {"field": "sub"},
     "color": {"field": "s", "type": "nominal", "scale": {"domain": ["red", "green", "navy"], "range": ["#ee1c1c", "#1a8035", "#14306e"]}, "legend": null}}},
   {"data": {"name": "labels"}, "transform": [{"filter": "datum.p === 'E' && datum.s === 'mv'"}],
    "mark": {"type": "text", "fontSize": 24, "fontWeight": "bold", "align": "left", "baseline": "middle", "color": "black"},
    "encoding": {"x": {"field": "x", "type": "quantitative", "scale": {"domain": [0, 8], "nice": false}, "axis": null}, "y": {"field": "y", "type": "quantitative", "scale": {"domain": [0, 125], "nice": false}, "axis": null}, "text": {"field": "t"}}}
  ]}
], "spacing": 90, "bounds": "flush"},
{"hconcat": [
 {"width": 250, "height": 205, "resolve": {"axis": {"x": "independent", "y": "independent"}},
  "layer": [
   {"data": {"name": "bars"}, "transform": [{"filter": "datum.p === 'C'"}],
    "mark": {"type": "bar", "fill": "#cccccc", "stroke": "#3a3a3a", "strokeWidth": 0.8, "binSpacing": 0},
    "encoding": {
     "x": {"field": "x", "type": "quantitative", "bin": "binned", "scale": {"domain": [10.4, 26.1], "nice": false, "zero": false},
       "axis": {"orient": "bottom", "title": "Current blockage %(I/I₀)", "titlePadding": 5, "values": [11,12,13,14,15,16,17,18,19,20,21,22,23,24,25,26], "labelExpr": "datum.value % 2 === 0 ? datum.label : ''", "tickSize": {"condition": {"test": "datum.value % 2 === 0", "value": 5}, "value": 3}}},
     "x2": {"field": "x2"},
     "y": {"field": "y", "type": "quantitative", "scale": {"domain": [0, 50], "nice": false},
       "axis": {"orient": "left", "title": "Counts", "titlePadding": 9, "values": [0,5,10,15,20,25,30,35,40,45,50], "labelExpr": "datum.value % 10 === 0 ? datum.label : ''", "tickSize": {"condition": {"test": "datum.value % 10 === 0", "value": 5}, "value": 3}}}
    }},
   {"data": {"name": "curves"}, "transform": [{"filter": "datum.p === 'C' && datum.s === 'red'"}],
    "mark": {"type": "line", "color": "#ff0000", "strokeWidth": 2, "interpolate": "monotone", "clip": true},
    "encoding": {"x": {"field": "x", "type": "quantitative", "scale": {"domain": [10.4, 26.1], "nice": false, "zero": false}, "axis": null}, "y": {"field": "y", "type": "quantitative", "scale": {"domain": [0, 50], "nice": false}, "axis": null}}},
   {"data": {"name": "curves"}, "transform": [{"filter": "datum.p === 'C' && datum.s === 'green'"}],
    "mark": {"type": "line", "color": "#0f8a1f", "strokeWidth": 2, "interpolate": "monotone", "clip": true},
    "encoding": {"x": {"field": "x", "type": "quantitative", "scale": {"domain": [10.4, 26.1], "nice": false, "zero": false}, "axis": null}, "y": {"field": "y", "type": "quantitative", "scale": {"domain": [0, 50], "nice": false}, "axis": null}}},
   {"data": {"name": "curves"}, "transform": [{"filter": "datum.p === 'C' && datum.s === 'blue'"}],
    "mark": {"type": "line", "color": "#0000f0", "strokeWidth": 2, "interpolate": "monotone", "clip": true},
    "encoding": {"x": {"field": "x", "type": "quantitative", "scale": {"domain": [10.4, 26.1], "nice": false, "zero": false}, "axis": {"orient": "top", "title": null, "labels": false, "values": [11,12,13,14,15,16,17,18,19,20,21,22,23,24,25,26], "tickSize": {"condition": {"test": "datum.value % 2 === 0", "value": -5}, "value": -3}}},
     "y": {"field": "y", "type": "quantitative", "scale": {"domain": [0, 50], "nice": false}, "axis": {"orient": "right", "title": null, "labels": false, "values": [0,5,10,15,20,25,30,35,40,45,50], "tickSize": {"condition": {"test": "datum.value % 10 === 0", "value": -5}, "value": -3}}}}},
   {"data": {"name": "labels"}, "transform": [{"filter": "datum.p === 'C' && datum.s !== 'mv'"}],
    "mark": {"type": "text", "fontSize": 26, "fontStyle": "italic", "fontWeight": "bold", "align": "left", "baseline": "alphabetic"},
    "encoding": {"x": {"field": "x", "type": "quantitative", "scale": {"domain": [10.4, 26.1], "nice": false, "zero": false}, "axis": null}, "y": {"field": "y", "type": "quantitative", "scale": {"domain": [0, 50], "nice": false}, "axis": null}, "text": {"field": "t"},
     "color": {"field": "s", "type": "nominal", "scale": {"domain": ["red", "green", "navy"], "range": ["#ee1c1c", "#1a8035", "#14306e"]}, "legend": null}}},
   {"data": {"name": "labels"}, "transform": [{"filter": "datum.p === 'C' && datum.s !== 'mv'"}],
    "mark": {"type": "text", "fontSize": 18, "fontStyle": "italic", "fontWeight": "bold", "align": "left", "baseline": "alphabetic", "dx": 8, "dy": 5},
    "encoding": {"x": {"field": "x", "type": "quantitative", "scale": {"domain": [10.4, 26.1], "nice": false, "zero": false}, "axis": null}, "y": {"field": "y", "type": "quantitative", "scale": {"domain": [0, 50], "nice": false}, "axis": null}, "text": {"field": "sub"},
     "color": {"field": "s", "type": "nominal", "scale": {"domain": ["red", "green", "navy"], "range": ["#ee1c1c", "#1a8035", "#14306e"]}, "legend": null}}}
  ]},
 {"width": 250, "height": 205, "resolve": {"axis": {"x": "independent", "y": "independent"}},
  "layer": [
   {"data": {"name": "bars"}, "transform": [{"filter": "datum.p === 'F'"}],
    "mark": {"type": "bar", "fill": "#cccccc", "stroke": "#3a3a3a", "strokeWidth": 0.8, "binSpacing": 2},
    "encoding": {
     "x": {"field": "x", "type": "quantitative", "bin": "binned", "scale": {"domain": [0, 8], "nice": false},
       "axis": {"orient": "bottom", "title": "Current blockage %(I₃/I₀)", "titlePadding": 5, "values": [0,0.5,1,1.5,2,2.5,3,3.5,4,4.5,5,5.5,6,6.5,7,7.5,8], "labelExpr": "datum.value % 1 === 0 ? datum.label : ''", "tickSize": {"condition": {"test": "datum.value % 1 === 0", "value": 5}, "value": 3}}},
     "x2": {"field": "x2"},
     "y": {"field": "y", "type": "quantitative", "scale": {"domain": [0, 150], "nice": false},
       "axis": {"orient": "left", "title": null, "values": [0,12.5,25,37.5,50,62.5,75,87.5,100,112.5,125,137.5,150], "labelExpr": "datum.value % 25 === 0 ? datum.label : ''", "tickSize": {"condition": {"test": "datum.value % 25 === 0", "value": 5}, "value": 3}}}
    }},
   {"data": {"name": "curves"}, "transform": [{"filter": "datum.p === 'F'"}],
    "mark": {"type": "line", "color": "#0000f0", "strokeWidth": 2, "interpolate": "monotone", "clip": true},
    "encoding": {"x": {"field": "x", "type": "quantitative", "scale": {"domain": [0, 8], "nice": false}, "axis": {"orient": "top", "title": null, "labels": false, "values": [0,0.5,1,1.5,2,2.5,3,3.5,4,4.5,5,5.5,6,6.5,7,7.5,8], "tickSize": {"condition": {"test": "datum.value % 1 === 0", "value": -5}, "value": -3}}},
     "y": {"field": "y", "type": "quantitative", "scale": {"domain": [0, 150], "nice": false}, "axis": {"orient": "right", "title": null, "labels": false, "values": [0,12.5,25,37.5,50,62.5,75,87.5,100,112.5,125,137.5,150], "tickSize": {"condition": {"test": "datum.value % 25 === 0", "value": -5}, "value": -3}}}}},
   {"data": {"name": "labels"}, "transform": [{"filter": "datum.p === 'F' && datum.s !== 'mv'"}],
    "mark": {"type": "text", "fontSize": 26, "fontStyle": "italic", "fontWeight": "bold", "align": "left", "baseline": "alphabetic"},
    "encoding": {"x": {"field": "x", "type": "quantitative", "scale": {"domain": [0, 8], "nice": false}, "axis": null}, "y": {"field": "y", "type": "quantitative", "scale": {"domain": [0, 150], "nice": false}, "axis": null}, "text": {"field": "t"},
     "color": {"field": "s", "type": "nominal", "scale": {"domain": ["red", "green", "navy"], "range": ["#ee1c1c", "#1a8035", "#14306e"]}, "legend": null}}},
   {"data": {"name": "labels"}, "transform": [{"filter": "datum.p === 'F' && datum.s !== 'mv'"}],
    "mark": {"type": "text", "fontSize": 18, "fontStyle": "italic", "fontWeight": "bold", "align": "left", "baseline": "alphabetic", "dx": 7, "dy": 5},
    "encoding": {"x": {"field": "x", "type": "quantitative", "scale": {"domain": [0, 8], "nice": false}, "axis": null}, "y": {"field": "y", "type": "quantitative", "scale": {"domain": [0, 150], "nice": false}, "axis": null}, "text": {"field": "sub"},
     "color": {"field": "s", "type": "nominal", "scale": {"domain": ["red", "green", "navy"], "range": ["#ee1c1c", "#1a8035", "#14306e"]}, "legend": null}}},
   {"data": {"name": "labels"}, "transform": [{"filter": "datum.p === 'F' && datum.s === 'mv'"}],
    "mark": {"type": "text", "fontSize": 24, "fontWeight": "bold", "align": "left", "baseline": "middle", "color": "black"},
    "encoding": {"x": {"field": "x", "type": "quantitative", "scale": {"domain": [0, 8], "nice": false}, "axis": null}, "y": {"field": "y", "type": "quantitative", "scale": {"domain": [0, 150], "nice": false}, "axis": null}, "text": {"field": "t"}}}
  ]}
], "spacing": 90, "bounds": "flush"}
]
}
